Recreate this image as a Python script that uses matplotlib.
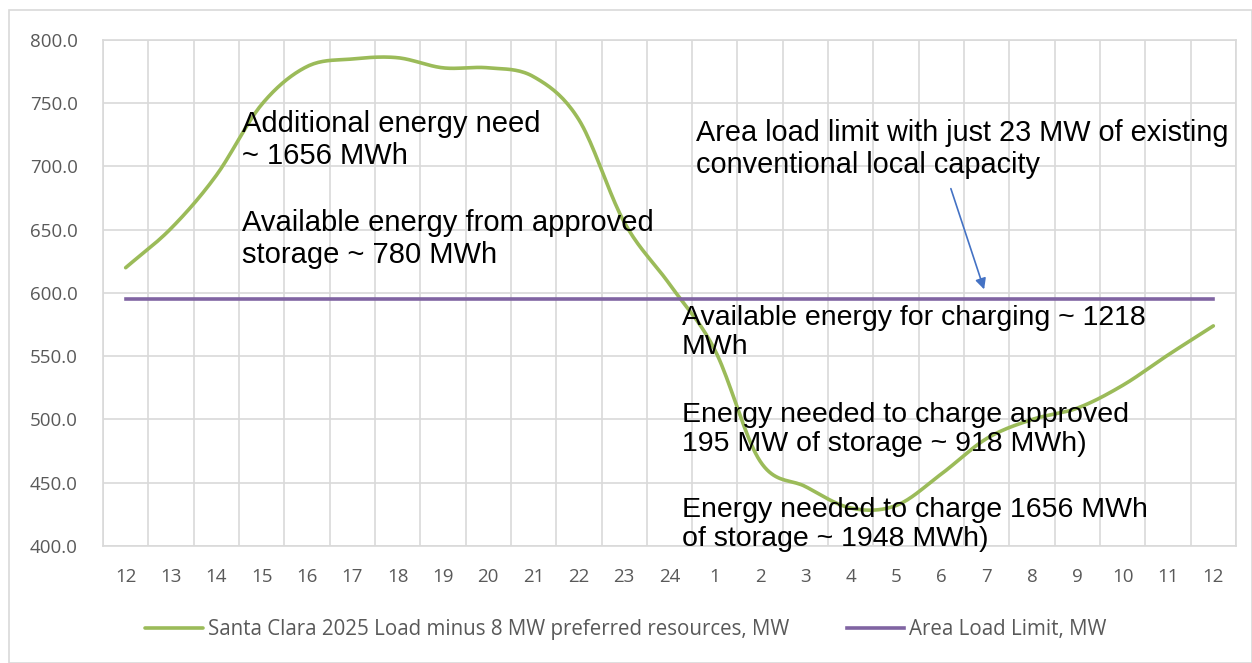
import numpy as np
import matplotlib
matplotlib.use("Agg")
import matplotlib.pyplot as plt
from matplotlib.patches import Rectangle

# hour labels, 24-hour window from noon to noon
hours = ["12", "13", "14", "15", "16", "17", "18", "19", "20", "21", "22", "23", "24",
         "1", "2", "3", "4", "5", "6", "7", "8", "9", "10", "11", "12"]
load_mw = [620, 651, 693, 749, 779, 785, 786, 778, 778, 771, 737, 656, 607,
           555, 467, 447, 430, 432, 457, 485, 500, 509, 527, 551, 574]
limit_mw = [595] * 25

load_label = "Santa Clara 2025 Load minus 8 MW preferred resources, MW"
limit_label = "Area Load Limit, MW"

# (x px, y px of cap top, font size, text)
notes = [
    (242, 113, 21, "Additional energy need\n~ 1656 MWh"),
    (242, 212, 21, "Available energy from approved\nstorage ~ 780 MWh"),
    (696, 122, 20.8, "Area load limit with just 23 MW of existing\nconventional local capacity"),
    (682, 308, 20.5, "Available energy for charging ~ 1218\nMWh"),
    (682, 405, 20.5, "Energy needed to charge approved\n195 MW of storage ~ 918 MWh)"),
    (682, 500, 20.5, "Energy needed to charge 1656 MWh\nof storage ~ 1948 MWh)"),
]


def smooth(x, y, n=20):
    # catmull-rom, roughly what excel does for "smoothed line"
    x = np.asarray(x, float)
    y = np.asarray(y, float)
    px = np.concatenate([[2 * x[0] - x[1]], x, [2 * x[-1] - x[-2]]])
    py = np.concatenate([[2 * y[0] - y[1]], y, [2 * y[-1] - y[-2]]])
    xs, ys = [], []
    t = np.linspace(0, 1, n, endpoint=False)
    for i in range(1, len(px) - 2):
        for p, out in ((px, xs), (py, ys)):
            p0, p1, p2, p3 = p[i - 1], p[i], p[i + 1], p[i + 2]
            out.append(0.5 * ((2 * p1) + (-p0 + p2) * t
                              + (2 * p0 - 5 * p1 + 4 * p2 - p3) * t ** 2
                              + (-p0 + 3 * p1 - 3 * p2 + p3) * t ** 3))
    xs.append([x[-1]])
    ys.append([y[-1]])
    return np.concatenate(xs), np.concatenate(ys)


W, H = 1252, 663
fig = plt.figure(figsize=(W / 100, H / 100), dpi=100)
ax = fig.add_axes([103 / W, 1 - 546 / H, (1236 - 103) / W, (546 - 40) / H])

gray = "#595959"
grid = "#d9d9d9"
tickfont = "Open Sans"

x = np.arange(len(hours))
sx, sy = smooth(x, load_mw)
ax.plot(sx, sy, color="#9bbb59", lw=2.6, label=load_label, solid_capstyle="round", zorder=3)
ax.plot(x, limit_mw, color="#8064a2", lw=2.6, label=limit_label, zorder=3)

ax.set_xlim(-0.5, len(hours) - 0.5)
ax.set_ylim(400, 800)
ax.set_yticks(np.arange(400, 801, 50))
ax.set_yticklabels([f"{v:.1f}" for v in np.arange(400, 801, 50)])
ax.set_xticks(x)
ax.set_xticklabels(hours)
ax.set_xticks(np.arange(-0.5, len(hours)), minor=True)
ax.tick_params(axis="both", which="both", length=0, colors=gray, labelsize=13.5)
ax.tick_params(axis="x", pad=16)
ax.tick_params(axis="y", pad=18)
for lab in ax.get_xticklabels() + ax.get_yticklabels():
    lab.set_family(tickfont)
ax.grid(True, which="minor", axis="x", color=grid, lw=1.2)
ax.grid(True, which="major", axis="y", color=grid, lw=1.2)
for s in ax.spines.values():
    s.set_color(grid)
    s.set_linewidth(1.2)
ax.set_axisbelow(True)

# annotations, placed in pixel coords of the figure
for px, py, fs, txt in notes:
    fig.text(px / W, 1 - (py - 3) / H, txt, ha="left", va="top", fontsize=fs,
             family=["Liberation Sans", "DejaVu Sans"], color="black",
             linespacing=1.17, zorder=5)

ax.annotate("", xy=(985 / W, 1 - 292 / H), xytext=(950 / W, 1 - 186 / H),
            xycoords="figure fraction", textcoords="figure fraction",
            arrowprops=dict(arrowstyle="-|>", color="#4472c4", lw=1.2,
                            mutation_scale=16))

leg = fig.legend(loc="center", bbox_to_anchor=(0.5, 1 - 630 / H), ncol=2, frameon=False,
                 handlelength=2.8, handletextpad=0.25, columnspacing=2.8,
                 prop={"family": tickfont, "size": 14.8})
for t in leg.get_texts():
    t.set_color(gray)

fig.patches.append(Rectangle((9 / W, 0), (W - 9) / W, 1 - 10 / H, transform=fig.transFigure,
                             fill=False, edgecolor=grid, lw=1.2))

fig.savefig("out.png", dpi=100)
